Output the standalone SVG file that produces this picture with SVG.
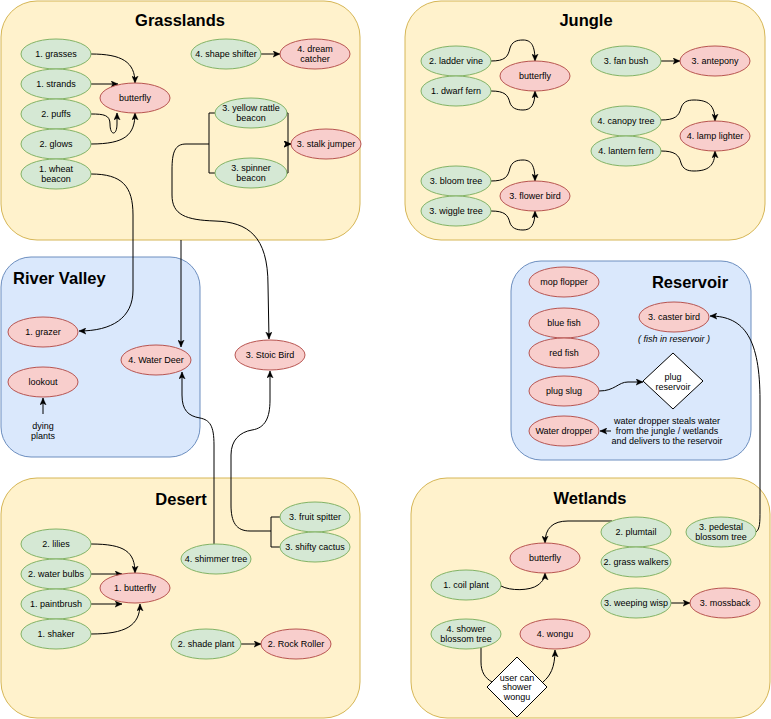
<svg xmlns="http://www.w3.org/2000/svg" width="771" height="719" viewBox="0 0 771 719">
<style>
.zy{fill:#fff2cc;stroke:#d6b656;stroke-width:1}
.zb{fill:#dae8fc;stroke:#6c8ebf;stroke-width:1}
.g ellipse{fill:#d5e8d4;stroke:#82b366;stroke-width:1}
.r ellipse{fill:#f8cecc;stroke:#b85450;stroke-width:1}
.d polygon{fill:#ffffff;stroke:#000000;stroke-width:1}
text{font-family:"Liberation Sans",Arial,Helvetica,sans-serif;font-size:9px;fill:#000000;text-anchor:middle}
.t{font-size:16.5px;font-weight:bold}
.e{fill:none;stroke:#000000;stroke-width:1}
.a{marker-end:url(#arr)}
</style>
<defs>
<marker id="arr" viewBox="0 0 10 10" refX="10" refY="5" markerWidth="7" markerHeight="7" markerUnits="userSpaceOnUse" orient="auto">
<path d="M0,0.5 L10,5 L0,9.5 L2.5,5 z" fill="#000000" stroke="#000000" stroke-width="0.5"/>
</marker>
</defs>

<g id="containers">
<g id="grasslands"><rect class="zy" x="1" y="1" width="359" height="239" rx="36" ry="36"/><text class="t" x="180" y="26">Grasslands</text></g>
<g id="jungle"><rect class="zy" x="405" y="1" width="360" height="239" rx="36" ry="36"/><text class="t" x="586" y="26">Jungle</text></g>
<g id="river-valley"><rect class="zb" x="1" y="257" width="199" height="200" rx="30" ry="30"/><text class="t" x="13" y="284" style="text-anchor:start">River Valley</text></g>
<g id="reservoir"><rect class="zb" x="511" y="261" width="240" height="199" rx="30" ry="30"/><text class="t" x="690" y="288">Reservoir</text></g>
<g id="desert"><rect class="zy" x="1" y="478" width="359" height="240" rx="36" ry="36"/><text class="t" x="181" y="505">Desert</text></g>
<g id="wetlands"><rect class="zy" x="411" y="478" width="359" height="240" rx="36" ry="36"/><text class="t" x="590" y="504">Wetlands</text></g>
</g>

<g id="connectors">
<path class="e a" d="M91,54 C122,54 135,62 135,83"/>
<path class="e a" d="M91,84 L118,84"/>
<path class="e a" d="M91,114 C104,114 110,115 110,124 C110,136 117,136 117,124 L117,113"/>
<path class="e a" d="M91,144 C125,144 135,135 135,113"/>
<path class="e a" d="M91,174 C122,174 133,186 133,215 L133,290 C133,318 112,331 79,331"/>
<path class="e a" d="M261,54 L280,54"/>
<path class="e a" d="M287,113 H288 V144 H291"/>
<path class="e a" d="M287,173 H288 V144 H291"/>
<path class="e a" d="M215,113 H209 V144 H186 C175,144 172,152 172,170 L172,195 C172,215 186,220 215,221 C248,222 268,236 268,285 L269,339"/>
<path class="e" d="M215,173 H209 V144"/>
<path class="e a" d="M181,240 L181,347"/>
<path class="e a" d="M214,544 L214,445 C214,426 210,420 200,418 C188,416 182,410 182,395 L182,372"/>
<path class="e a" d="M280,517 H271 V531 H250 C236,531 231,522 231,505 L231,455 C231,440 240,432 252,430 C265,428 270,418 270,400 L270,371"/>
<path class="e" d="M280,547 H271 V531"/>
<path class="e a" d="M91,544 C125,544 135,552 135,573"/>
<path class="e a" d="M91,574 L122,574"/>
<path class="e a" d="M91,604 L122,604"/>
<path class="e a" d="M91,634 C125,634 140,626 140,604"/>
<path class="e a" d="M241,644 L261,644"/>
<path class="e a" d="M491,61 C505,61 508,57 510,48 C512,42 516,40 523,40 C531,40 535,45 535,61"/>
<path class="e a" d="M491,91 C505,91 508,95 510,103 C512,108 516,110 523,110 C531,110 535,105 535,91"/>
<path class="e a" d="M491,181 C505,181 508,177 510,168 C512,162 516,160 523,160 C531,160 535,165 535,181"/>
<path class="e a" d="M491,211 C505,211 508,215 510,223 C512,228 516,230 523,230 C531,230 535,225 535,211"/>
<path class="e a" d="M661,61 L680,61"/>
<path class="e a" d="M661,120 C675,120 679,116 681,108 C683,102 687,100 694,100 C708,100 715,105 715,121"/>
<path class="e a" d="M661,151 C675,151 679,155 681,163 C683,169 687,171 694,171 C708,171 715,166 715,151"/>
<path class="e a" d="M612,521 L568,521 C553,521 545,528 545,543"/>
<path class="e a" d="M501,586 C510,591 530,591 538,585 C543,581 545,578 545,573"/>
<path class="e" d="M481,648 L481,662 C481,672 485,678 492,682"/>
<path class="e a" d="M543,682 C550,676 555,668 555,650"/>
<path class="e a" d="M671,603 L690,603"/>
<path class="e a" d="M756,532 C760,529 760,522 760,510 L760,400 C760,340 745,316 710,316"/>
<path class="e a" d="M599,391 C615,391 618,382 628,382 L643,382"/>
<path class="e a" d="M611,431 L600,431"/>
<path class="e a" d="M43,414 L43,398"/>
</g>

<g id="n-grasses" class="g"><ellipse cx="56" cy="54" rx="35" ry="15"/><text x="56" y="57">1. grasses</text></g>
<g id="n-strands" class="g"><ellipse cx="56" cy="84" rx="35" ry="15"/><text x="56" y="87">1. strands</text></g>
<g id="n-puffs" class="g"><ellipse cx="56" cy="114" rx="35" ry="15"/><text x="56" y="117">2. puffs</text></g>
<g id="n-glows" class="g"><ellipse cx="56" cy="144" rx="35" ry="15"/><text x="56" y="147">2. glows</text></g>
<g id="n-wheat-beacon" class="g"><ellipse cx="56" cy="174" rx="35" ry="15"/><text x="56" y="172">1. wheat</text><text x="56" y="182">beacon</text></g>
<g id="n-g-butterfly" class="r"><ellipse cx="135" cy="98" rx="35" ry="15"/><text x="135" y="101">butterfly</text></g>
<g id="n-shape-shifter" class="g"><ellipse cx="226" cy="54" rx="35" ry="15"/><text x="226" y="57">4. shape shifter</text></g>
<g id="n-dream-catcher" class="r"><ellipse cx="315" cy="54" rx="35" ry="15"/><text x="315" y="52">4. dream</text><text x="315" y="62">catcher</text></g>
<g id="n-yellow-rattle" class="g"><ellipse cx="251" cy="113" rx="36" ry="15"/><text x="251" y="111">3. yellow rattle</text><text x="251" y="121">beacon</text></g>
<g id="n-spinner-beacon" class="g"><ellipse cx="251" cy="173" rx="36" ry="15"/><text x="251" y="171">3. spinner</text><text x="251" y="181">beacon</text></g>
<g id="n-stalk-jumper" class="r"><ellipse cx="326" cy="144" rx="35" ry="15"/><text x="326" y="147">3. stalk jumper</text></g>

<g id="n-ladder-vine" class="g"><ellipse cx="456" cy="61" rx="35" ry="15"/><text x="456" y="64">2. ladder vine</text></g>
<g id="n-dwarf-fern" class="g"><ellipse cx="456" cy="91" rx="35" ry="15"/><text x="456" y="94">1. dwarf fern</text></g>
<g id="n-j-butterfly" class="r"><ellipse cx="535" cy="76" rx="35" ry="15"/><text x="535" y="79">butterfly</text></g>
<g id="n-bloom-tree" class="g"><ellipse cx="456" cy="181" rx="35" ry="15"/><text x="456" y="184">3. bloom tree</text></g>
<g id="n-wiggle-tree" class="g"><ellipse cx="456" cy="211" rx="35" ry="15"/><text x="456" y="214">3. wiggle tree</text></g>
<g id="n-flower-bird" class="r"><ellipse cx="535" cy="196" rx="35" ry="15"/><text x="535" y="199">3. flower bird</text></g>
<g id="n-fan-bush" class="g"><ellipse cx="626" cy="61" rx="35" ry="15"/><text x="626" y="64">3. fan bush</text></g>
<g id="n-antepony" class="r"><ellipse cx="715" cy="61" rx="35" ry="15"/><text x="715" y="64">3. antepony</text></g>
<g id="n-canopy-tree" class="g"><ellipse cx="626" cy="121" rx="35" ry="15"/><text x="626" y="124">4. canopy tree</text></g>
<g id="n-lantern-fern" class="g"><ellipse cx="626" cy="151" rx="35" ry="15"/><text x="626" y="154">4. lantern fern</text></g>
<g id="n-lamp-lighter" class="r"><ellipse cx="715" cy="136" rx="35" ry="15"/><text x="715" y="139">4. lamp lighter</text></g>

<g id="n-grazer" class="r"><ellipse cx="43" cy="332" rx="35" ry="15"/><text x="43" y="335">1. grazer</text></g>
<g id="n-lookout" class="r"><ellipse cx="43" cy="382" rx="35" ry="15"/><text x="43" y="385">lookout</text></g>
<g id="n-dying-plants"><text x="43" y="429">dying</text><text x="43" y="439">plants</text></g>
<g id="n-water-deer" class="r"><ellipse cx="156" cy="360" rx="35" ry="15"/><text x="156" y="363">4. Water Deer</text></g>
<g id="n-stoic-bird" class="r"><ellipse cx="270" cy="355" rx="35" ry="15"/><text x="270" y="358">3. Stoic Bird</text></g>

<g id="n-mop-flopper" class="r"><ellipse cx="564" cy="282" rx="35" ry="15"/><text x="564" y="285">mop flopper</text></g>
<g id="n-blue-fish" class="r"><ellipse cx="564" cy="323" rx="35" ry="15"/><text x="564" y="326">blue fish</text></g>
<g id="n-red-fish" class="r"><ellipse cx="564" cy="353" rx="35" ry="15"/><text x="564" y="356">red fish</text></g>
<g id="n-plug-slug" class="r"><ellipse cx="564" cy="391" rx="35" ry="15"/><text x="564" y="394">plug slug</text></g>
<g id="n-water-dropper" class="r"><ellipse cx="564" cy="431" rx="35" ry="15"/><text x="564" y="434">Water dropper</text></g>
<g id="n-caster-bird" class="r"><ellipse cx="674" cy="317" rx="35" ry="15"/><text x="674" y="320">3. caster bird</text></g>
<g id="n-fish-note"><text x="674" y="342" style="font-style:italic">( fish in reservoir )</text></g>
<g id="n-plug-reservoir" class="d"><polygon points="673,353 703,381 673,409 643,381"/><text x="673" y="380">plug</text><text x="673" y="390">reservoir</text></g>
<g id="n-dropper-note"><text x="667" y="424">water dropper steals water</text><text x="667" y="434">from the jungle / wetlands</text><text x="667" y="444">and delivers to the reservoir</text></g>

<g id="n-lilies" class="g"><ellipse cx="56" cy="544" rx="35" ry="15"/><text x="56" y="547">2. lilies</text></g>
<g id="n-water-bulbs" class="g"><ellipse cx="56" cy="574" rx="35" ry="15"/><text x="56" y="577">2. water bulbs</text></g>
<g id="n-paintbrush" class="g"><ellipse cx="56" cy="604" rx="35" ry="15"/><text x="56" y="607">1. paintbrush</text></g>
<g id="n-shaker" class="g"><ellipse cx="56" cy="634" rx="35" ry="15"/><text x="56" y="637">1. shaker</text></g>
<g id="n-d-butterfly" class="r"><ellipse cx="135" cy="588" rx="35" ry="15"/><text x="135" y="591">1. butterfly</text></g>
<g id="n-shimmer-tree" class="g"><ellipse cx="216" cy="559" rx="35" ry="15"/><text x="216" y="562">4. shimmer tree</text></g>
<g id="n-fruit-spitter" class="g"><ellipse cx="315" cy="517" rx="35" ry="15"/><text x="315" y="520">3. fruit spitter</text></g>
<g id="n-shifty-cactus" class="g"><ellipse cx="315" cy="547" rx="35" ry="15"/><text x="315" y="550">3. shifty cactus</text></g>
<g id="n-shade-plant" class="g"><ellipse cx="206" cy="644" rx="35" ry="15"/><text x="206" y="647">2. shade plant</text></g>
<g id="n-rock-roller" class="r"><ellipse cx="296" cy="644" rx="35" ry="15"/><text x="296" y="647">2. Rock Roller</text></g>

<g id="n-w-butterfly" class="r"><ellipse cx="545" cy="558" rx="35" ry="15"/><text x="545" y="561">butterfly</text></g>
<g id="n-coil-plant" class="g"><ellipse cx="466" cy="585" rx="35" ry="15"/><text x="466" y="588">1. coil plant</text></g>
<g id="n-shower-blossom" class="g"><ellipse cx="466" cy="634" rx="35" ry="15"/><text x="466" y="632">4. shower</text><text x="466" y="642">blossom tree</text></g>
<g id="n-wongu" class="r"><ellipse cx="555" cy="634" rx="35" ry="15"/><text x="555" y="637">4. wongu</text></g>
<g id="n-user-shower" class="d"><polygon points="517,657 547,687 517,717 487,687"/><text x="517" y="681">user can</text><text x="517" y="690">shower</text><text x="517" y="700">wongu</text></g>
<g id="n-plumtail" class="g"><ellipse cx="636" cy="532" rx="35" ry="15"/><text x="636" y="535">2. plumtail</text></g>
<g id="n-grass-walkers" class="g"><ellipse cx="636" cy="562" rx="35" ry="15"/><text x="636" y="565">2. grass walkers</text></g>
<g id="n-pedestal" class="g"><ellipse cx="721" cy="532" rx="35" ry="15"/><text x="721" y="530">3. pedestal</text><text x="721" y="540">blossom tree</text></g>
<g id="n-weeping-wisp" class="g"><ellipse cx="636" cy="603" rx="35" ry="15"/><text x="636" y="606">3. weeping wisp</text></g>
<g id="n-mossback" class="r"><ellipse cx="725" cy="603" rx="35" ry="15"/><text x="725" y="606">3. mossback</text></g>
</svg>
